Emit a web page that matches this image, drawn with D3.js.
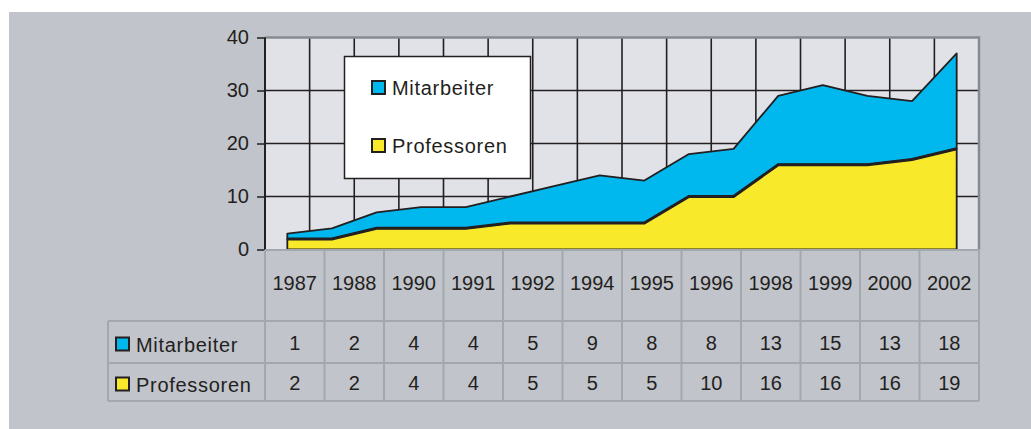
<!DOCTYPE html>
<html>
<head>
<meta charset="utf-8">
<script src="https://cdn.jsdelivr.net/npm/d3@7"></script>
<style>
  body { margin: 0; background: #fff; }
  svg { display: block; }
</style>
</head>
<body>
<div id="chart"></div>
<script>
// chart data, one value per year on the time axis
const chartYears = [1987, 1988, 1989, 1990, 1991, 1992, 1993, 1994, 1995, 1996, 1997, 1998, 1999, 2000, 2001, 2002];
const professoren = [2, 2, 4, 4, 4, 5, 5, 5, 5, 10, 10, 16, 16, 16, 17, 19];
const mitarbeiter = [1, 2, 3, 4, 4, 5, 7, 9, 8, 8, 9, 13, 15, 13, 11, 18];

// data table under the chart
const tableYears = [1987, 1988, 1990, 1991, 1992, 1994, 1995, 1996, 1998, 1999, 2000, 2002];
const tableMitarbeiter = [1, 2, 4, 4, 5, 9, 8, 8, 13, 15, 13, 18];
const tableProfessoren = [2, 2, 4, 4, 5, 5, 5, 10, 16, 16, 16, 19];

const yTicks = [0, 10, 20, 30, 40];
const seriesNames = ["Mitarbeiter", "Professoren"];

const width = 1031, height = 429;
const plot = { left: 265, right: 979, top: 37.5, bottom: 249.5 };
const colors = { Mitarbeiter: "#00b7ee", Professoren: "#f8e92a" };
const ink = "#231f20";
const tableLine = "#a3a8ae";
const font = "'Liberation Sans', Arial, sans-serif";

const svg = d3.select("#chart")
  .append("svg")
  .attr("width", width)
  .attr("height", height)
  .attr("viewBox", [0, 0, width, height]);

// gray panel
svg.append("rect")
  .attr("x", 9).attr("y", 12)
  .attr("width", width - 9).attr("height", height - 12)
  .attr("fill", "#c1c4cb");

// Scales
const x = d3.scaleBand()
  .domain(chartYears)
  .range([plot.left, plot.right])
  .paddingInner(0).paddingOuter(0);

const y = d3.scaleLinear()
  .domain([0, 40])
  .range([plot.bottom, plot.top]);

const cx = d => x(d) + x.bandwidth() / 2;

// plot background
svg.append("rect")
  .attr("x", plot.left).attr("y", plot.top)
  .attr("width", plot.right - plot.left).attr("height", plot.bottom - plot.top)
  .attr("fill", "#e0e2e7");

// grid
const grid = svg.append("g").attr("stroke", ink).attr("stroke-width", 1.6);
grid.selectAll("line.h")
  .data(yTicks.filter(t => t > 0 && t < 40))
  .join("line")
  .attr("class", "h")
  .attr("x1", plot.left).attr("x2", plot.right)
  .attr("y1", d => y(d)).attr("y2", d => y(d));
grid.selectAll("line.v")
  .data(chartYears.slice(1))
  .join("line")
  .attr("class", "v")
  .attr("x1", d => x(d)).attr("x2", d => x(d))
  .attr("y1", plot.top).attr("y2", plot.bottom);

// stacked areas
const rows = chartYears.map((yr, i) => ({ year: yr, Professoren: professoren[i], Mitarbeiter: mitarbeiter[i] }));
const stack = d3.stack().keys(["Professoren", "Mitarbeiter"]);
const layers = stack(rows);

const area = d3.area()
  .x(d => cx(d.data.year))
  .y0(d => y(d[0]))
  .y1(d => y(d[1]));

const topLine = d3.line()
  .x(d => cx(d.data.year))
  .y(d => y(d[1]));

svg.append("g")
  .selectAll("path.area")
  .data(layers.slice().reverse())
  .join("path")
  .attr("class", "area")
  .attr("d", area)
  .attr("fill", d => colors[d.key])
  .attr("stroke", ink)
  .attr("stroke-width", 1.8)
  .attr("stroke-linejoin", "round");

// thicker boundary between the layers
svg.append("path")
  .attr("d", topLine(layers[0]))
  .attr("fill", "none")
  .attr("stroke", ink)
  .attr("stroke-width", 3);

// plot frame: gray top/right, black left axis
svg.append("path")
  .attr("d", `M${plot.left},${plot.top}H${plot.right}V${plot.bottom}`)
  .attr("fill", "none")
  .attr("stroke", "#868b92")
  .attr("stroke-width", 2.5);

// y axis
const yAxis = svg.append("g")
  .attr("transform", `translate(${plot.left},0)`)
  .call(d3.axisLeft(y).tickValues(yTicks).tickSize(8).tickPadding(8));
yAxis.select(".domain").remove();
yAxis.selectAll(".tick line").attr("stroke", ink).attr("stroke-width", 1.5);
yAxis.selectAll(".tick text")
  .attr("fill", ink)
  .style("font-family", font)
  .style("font-size", "20px");

svg.append("line")
  .attr("x1", plot.left).attr("x2", plot.left)
  .attr("y1", plot.top).attr("y2", plot.bottom)
  .attr("stroke", ink).attr("stroke-width", 2);

// legend
const legend = svg.append("g");
legend.append("rect")
  .attr("x", 344.5).attr("y", 56.5)
  .attr("width", 186).attr("height", 122)
  .attr("fill", "#fff")
  .attr("stroke", ink).attr("stroke-width", 1.5);

seriesNames.forEach((name, i) => {
  const row = legend.append("g").attr("transform", `translate(372, ${81 + i * 58})`);
  row.append("rect")
    .attr("width", 13).attr("height", 13)
    .attr("fill", colors[name])
    .attr("stroke", ink).attr("stroke-width", 2);
  row.append("text")
    .attr("x", 20).attr("y", 13.5)
    .attr("fill", ink)
    .style("font-family", font)
    .style("font-size", "20px")
    .style("letter-spacing", "0.7px")
    .text(name);
});

// data table
const tx = d3.scaleBand()
  .domain(tableYears)
  .range([plot.left, plot.right]);

const tableTop = 250, headerBottom = 321, row1Bottom = 363, tableBottom = 401, labelLeft = 108;

const table = svg.append("g").attr("stroke", tableLine).attr("stroke-width", 2);
table.append("line").attr("x1", plot.left).attr("x2", plot.right).attr("y1", tableTop).attr("y2", tableTop);
[headerBottom, row1Bottom, tableBottom].forEach(yy => {
  table.append("line").attr("x1", labelLeft).attr("x2", plot.right).attr("y1", yy).attr("y2", yy);
});
table.append("line").attr("x1", labelLeft).attr("x2", labelLeft).attr("y1", headerBottom).attr("y2", tableBottom);
table.selectAll("line.col")
  .data(tableYears)
  .join("line")
  .attr("class", "col")
  .attr("x1", d => tx(d)).attr("x2", d => tx(d))
  .attr("y1", tableTop).attr("y2", tableBottom);
table.append("line").attr("x1", plot.right).attr("x2", plot.right).attr("y1", tableTop).attr("y2", tableBottom);

const cellText = (sel, values, yy) => sel.selectAll(null)
  .data(values)
  .join("text")
  .attr("x", (d, i) => tx(tableYears[i]) + tx.bandwidth() / 2)
  .attr("y", yy)
  .attr("text-anchor", "middle")
  .attr("fill", ink)
  .style("font-family", font)
  .style("font-size", "20px")
  .text(d => d);

const cells = svg.append("g");
cellText(cells.append("g"), tableYears, 290);
cellText(cells.append("g"), tableMitarbeiter, 350);
cellText(cells.append("g"), tableProfessoren, 390);

const rowLabelY = [337.5, 377.5];
seriesNames.forEach((name, i) => {
  const row = svg.append("g").attr("transform", `translate(116, ${rowLabelY[i]})`);
  row.append("rect")
    .attr("width", 13).attr("height", 13)
    .attr("fill", colors[name])
    .attr("stroke", ink).attr("stroke-width", 2);
  row.append("text")
    .attr("x", 20).attr("y", 14)
    .attr("fill", ink)
    .style("font-family", font)
    .style("font-size", "20px")
    .style("letter-spacing", "0.7px")
    .text(name);
});
</script>
</body>
</html>
